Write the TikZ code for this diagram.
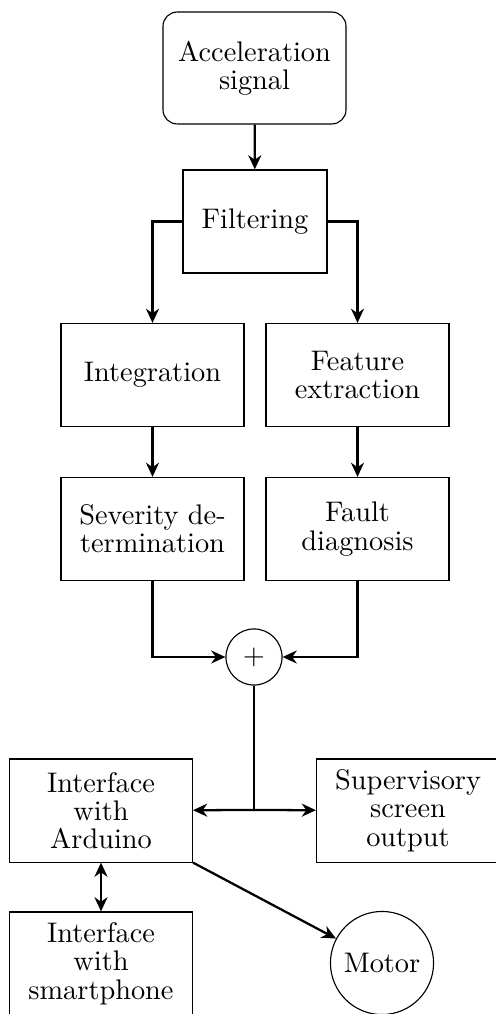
\documentclass[tikz,border=0pt]{standalone}
\usetikzlibrary{arrows.meta}

\begin{document}
\begin{tikzpicture}
[x=0.353pt,y=-0.353pt,%
  boxDecorate/.style={shape=rectangle,draw,align=center,minimum width=64.6pt,minimum height=36.4pt,inner sep=2pt,font=\fontsize{10pt}{10pt}\selectfont},%
  roundDecorate/.style={boxDecorate,rounded corners=5pt,minimum height=39.5pt},%
  smallDecorate/.style={boxDecorate,minimum width=50.8pt},%
  sumDecorate/.style={shape=circle,draw,minimum size=19.8pt,inner sep=0pt},%
  motorDecorate/.style={shape=circle,draw,minimum size=36.4pt,inner sep=0pt},%
  lineDecorate/.style={-{Stealth[length=5pt,width=4.6pt,inset=1.6pt]},thick},%
  bothDecorate/.style={{Stealth[length=5pt,width=4.6pt,inset=1.6pt]}-{Stealth[length=5pt,width=4.6pt,inset=1.6pt]},thick}]
\useasboundingbox (0,0) rectangle (496,1014);
%% nodes or vertices
\node (acc) at (254.5,68) [roundDecorate] {Acceleration\\signal};
\node (filt) at (255,221.5) [smallDecorate] {Filtering};
\node (integ) at (152.5,375) [boxDecorate] {Integration};
\node (feat) at (357.5,375) [boxDecorate] {Feature\\extraction};
\node (sev) at (152.5,529) [boxDecorate] {Severity de-\\termination};
\node (fault) at (357.5,529) [boxDecorate] {Fault\\diagnosis};
\node (sum) at (254,657) [sumDecorate] {$+$};
\coordinate (junc) at (254,810);
\node (ardu) at (101,810.5) [boxDecorate] {Interface\\with\\Arduino};
\node (super) at (408,810.5) [boxDecorate] {Supervisory\\screen\\output};
\node (phone) at (101,963.5) [boxDecorate] {Interface\\with\\smartphone};
\node (motor) at (382,963) [motorDecorate] {Motor};
%% edges or lines
\path
\foreach \startnode/\endnode in {acc/filt, integ/sev, feat/fault, junc/ardu, junc/super, ardu.south east/motor}
{
  (\startnode) edge[lineDecorate] (\endnode)
};
\draw[lineDecorate] (filt.west) -| (integ.north);
\draw[lineDecorate] (filt.east) -| (feat.north);
\draw[lineDecorate] (sev.south) |- (sum.west);
\draw[lineDecorate] (fault.south) |- (sum.east);
\draw[thick] (sum) -- (junc);
\draw[bothDecorate] (ardu) -- (phone);
\end{tikzpicture}
\end{document}
